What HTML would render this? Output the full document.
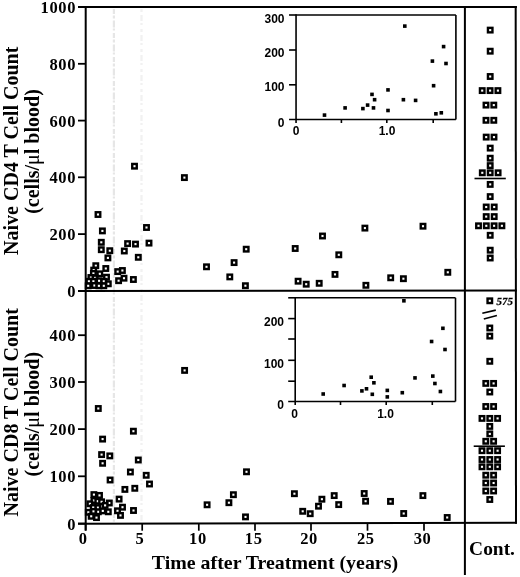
<!DOCTYPE html>
<html><head><meta charset="utf-8"><style>
html,body{margin:0;padding:0;background:#fff;}
body{width:520px;height:577px;overflow:hidden;}
svg{display:block;}
</style></head><body>
<svg width="520" height="577" viewBox="0 0 520 577">
<defs><filter id="bl" x="0" y="0" width="520" height="577" filterUnits="userSpaceOnUse"><feGaussianBlur stdDeviation="0.35"/></filter></defs>
<rect width="520" height="577" fill="#fff"/>
<g filter="url(#bl)">
<g>
<line x1="113.9" y1="9.0" x2="113.9" y2="521.7" stroke="#e6e6e6" stroke-width="2.2" stroke-dasharray="5 1.5 3 2 7 1 2 2.5"/>
<line x1="141.5" y1="9.0" x2="141.5" y2="521.7" stroke="#f1f1f1" stroke-width="2.2" stroke-dasharray="3 3 6 2 2 4"/>
<line x1="78" y1="7.0" x2="516.9" y2="7.0" stroke="#000" stroke-width="2.0"/>
<line x1="78" y1="291.1" x2="516.9" y2="290.4" stroke="#000" stroke-width="2.0"/>
<line x1="78" y1="523.7" x2="516.9" y2="522.7" stroke="#000" stroke-width="2.0"/>
<line x1="85.7" y1="6.0" x2="85.7" y2="530.5" stroke="#000" stroke-width="2.0"/>
<line x1="464.9" y1="6.0" x2="464.9" y2="575" stroke="#000" stroke-width="2.0"/>
<line x1="515.7" y1="6.0" x2="516.0" y2="523.7" stroke="#000" stroke-width="2.0"/>
<line x1="78" y1="7.0" x2="85.7" y2="7.0" stroke="#000" stroke-width="1.8"/>
<line x1="78" y1="63.8" x2="85.7" y2="63.8" stroke="#000" stroke-width="1.8"/>
<line x1="78" y1="120.6" x2="85.7" y2="120.6" stroke="#000" stroke-width="1.8"/>
<line x1="78" y1="177.3" x2="85.7" y2="177.3" stroke="#000" stroke-width="1.8"/>
<line x1="78" y1="234.1" x2="85.7" y2="234.1" stroke="#000" stroke-width="1.8"/>
<line x1="78" y1="291.0" x2="85.7" y2="291.0" stroke="#000" stroke-width="1.8"/>
<line x1="78" y1="335.2" x2="85.7" y2="335.2" stroke="#000" stroke-width="1.8"/>
<line x1="78" y1="382.0" x2="85.7" y2="382.0" stroke="#000" stroke-width="1.8"/>
<line x1="78" y1="429.1" x2="85.7" y2="429.1" stroke="#000" stroke-width="1.8"/>
<line x1="78" y1="476.3" x2="85.7" y2="476.3" stroke="#000" stroke-width="1.8"/>
<line x1="78" y1="523.6" x2="85.7" y2="523.6" stroke="#000" stroke-width="1.8"/>
<line x1="85.6" y1="523.682687927107" x2="85.6" y2="530.7" stroke="#000" stroke-width="1.7"/>
<line x1="142.2" y1="523.5537585421413" x2="142.2" y2="530.7" stroke="#000" stroke-width="1.7"/>
<line x1="198.8" y1="523.4248291571754" x2="198.8" y2="530.7" stroke="#000" stroke-width="1.7"/>
<line x1="255.0" y1="523.2968109339408" x2="255.0" y2="530.7" stroke="#000" stroke-width="1.7"/>
<line x1="311.0" y1="523.1692482915718" x2="311.0" y2="530.7" stroke="#000" stroke-width="1.7"/>
<line x1="367.5" y1="523.0405466970387" x2="367.5" y2="530.7" stroke="#000" stroke-width="1.7"/>
<line x1="424.0" y1="522.9118451025057" x2="424.0" y2="530.7" stroke="#000" stroke-width="1.7"/>
<line x1="474.5" y1="178.5" x2="505.8" y2="178.5" stroke="#000" stroke-width="1.6"/>
<line x1="473.7" y1="446.2" x2="504.9" y2="446.2" stroke="#000" stroke-width="1.6"/>
<line x1="482.3" y1="313.2" x2="495.8" y2="310.1" stroke="#000" stroke-width="1.6"/>
<line x1="483.8" y1="319.1" x2="496.9" y2="315.5" stroke="#000" stroke-width="1.6"/>
<line x1="296.05" y1="15.0" x2="455.9" y2="15.0" stroke="#000" stroke-width="1.6"/>
<line x1="455.9" y1="15.0" x2="455.9" y2="119.5" stroke="#000" stroke-width="1.6"/>
<line x1="289.05" y1="119.5" x2="455.9" y2="119.5" stroke="#000" stroke-width="1.6"/>
<line x1="296.05" y1="14.2" x2="296.05" y2="123.0" stroke="#000" stroke-width="1.6"/>
<line x1="289.05" y1="15.0" x2="296.05" y2="15.0" stroke="#000" stroke-width="1.6"/>
<line x1="289.05" y1="50.0" x2="296.05" y2="50.0" stroke="#000" stroke-width="1.6"/>
<line x1="289.05" y1="84.8" x2="296.05" y2="84.8" stroke="#000" stroke-width="1.6"/>
<line x1="341.4" y1="119.5" x2="341.4" y2="123.0" stroke="#000" stroke-width="1.6"/>
<line x1="386.8" y1="119.5" x2="386.8" y2="123.0" stroke="#000" stroke-width="1.6"/>
<line x1="433.2" y1="119.5" x2="433.2" y2="123.0" stroke="#000" stroke-width="1.6"/>
<line x1="295.2" y1="297.8" x2="455.5" y2="297.8" stroke="#000" stroke-width="1.6"/>
<line x1="455.5" y1="297.8" x2="455.5" y2="401.5" stroke="#000" stroke-width="1.6"/>
<line x1="288.2" y1="401.5" x2="455.5" y2="401.5" stroke="#000" stroke-width="1.6"/>
<line x1="295.2" y1="297.0" x2="295.2" y2="405.0" stroke="#000" stroke-width="1.6"/>
<line x1="288.2" y1="297.8" x2="295.2" y2="297.8" stroke="#000" stroke-width="1.6"/>
<line x1="288.2" y1="318.6" x2="295.2" y2="318.6" stroke="#000" stroke-width="1.6"/>
<line x1="288.2" y1="339.0" x2="295.2" y2="339.0" stroke="#000" stroke-width="1.6"/>
<line x1="288.2" y1="360.3" x2="295.2" y2="360.3" stroke="#000" stroke-width="1.6"/>
<line x1="288.2" y1="381.2" x2="295.2" y2="381.2" stroke="#000" stroke-width="1.6"/>
<line x1="340.5" y1="401.5" x2="340.5" y2="405.0" stroke="#000" stroke-width="1.6"/>
<line x1="386.2" y1="401.5" x2="386.2" y2="405.0" stroke="#000" stroke-width="1.6"/>
<line x1="432.3" y1="401.5" x2="432.3" y2="405.0" stroke="#000" stroke-width="1.6"/>
</g>
<g fill="#fff" stroke="#000" stroke-width="2.4">
<rect x="95.75" y="212.25" width="4.50" height="4.50"/>
<rect x="100.15" y="228.65" width="4.50" height="4.50"/>
<rect x="99.05" y="240.05" width="4.50" height="4.50"/>
<rect x="99.05" y="247.45" width="4.50" height="4.50"/>
<rect x="107.55" y="248.45" width="4.50" height="4.50"/>
<rect x="105.65" y="255.65" width="4.50" height="4.50"/>
<rect x="93.55" y="263.45" width="4.50" height="4.50"/>
<rect x="103.55" y="266.25" width="4.50" height="4.50"/>
<rect x="91.45" y="267.85" width="4.50" height="4.50"/>
<rect x="91.15" y="271.15" width="4.50" height="4.50"/>
<rect x="97.55" y="271.55" width="4.50" height="4.50"/>
<rect x="88.65" y="275.25" width="4.50" height="4.50"/>
<rect x="92.85" y="275.65" width="4.50" height="4.50"/>
<rect x="104.25" y="274.95" width="4.50" height="4.50"/>
<rect x="86.65" y="279.05" width="4.50" height="4.50"/>
<rect x="91.15" y="279.05" width="4.50" height="4.50"/>
<rect x="96.85" y="278.55" width="4.50" height="4.50"/>
<rect x="101.55" y="279.05" width="4.50" height="4.50"/>
<rect x="106.05" y="281.55" width="4.50" height="4.50"/>
<rect x="85.95" y="283.55" width="4.50" height="4.50"/>
<rect x="92.15" y="283.25" width="4.50" height="4.50"/>
<rect x="96.65" y="283.55" width="4.50" height="4.50"/>
<rect x="101.55" y="283.55" width="4.50" height="4.50"/>
<rect x="144.25" y="225.25" width="4.50" height="4.50"/>
<rect x="146.75" y="240.85" width="4.50" height="4.50"/>
<rect x="125.35" y="241.35" width="4.50" height="4.50"/>
<rect x="133.25" y="241.85" width="4.50" height="4.50"/>
<rect x="122.05" y="248.75" width="4.50" height="4.50"/>
<rect x="136.05" y="255.05" width="4.50" height="4.50"/>
<rect x="115.45" y="269.35" width="4.50" height="4.50"/>
<rect x="120.15" y="268.25" width="4.50" height="4.50"/>
<rect x="116.35" y="278.45" width="4.50" height="4.50"/>
<rect x="121.75" y="275.95" width="4.50" height="4.50"/>
<rect x="131.15" y="277.25" width="4.50" height="4.50"/>
<rect x="132.25" y="163.95" width="4.50" height="4.50"/>
<rect x="182.15" y="175.35" width="4.50" height="4.50"/>
<rect x="204.25" y="264.55" width="4.50" height="4.50"/>
<rect x="243.95" y="246.95" width="4.50" height="4.50"/>
<rect x="231.85" y="260.35" width="4.50" height="4.50"/>
<rect x="227.55" y="274.65" width="4.50" height="4.50"/>
<rect x="243.15" y="283.45" width="4.50" height="4.50"/>
<rect x="292.95" y="246.25" width="4.50" height="4.50"/>
<rect x="320.25" y="233.75" width="4.50" height="4.50"/>
<rect x="336.55" y="252.55" width="4.50" height="4.50"/>
<rect x="332.75" y="272.15" width="4.50" height="4.50"/>
<rect x="295.85" y="278.95" width="4.50" height="4.50"/>
<rect x="303.95" y="281.95" width="4.50" height="4.50"/>
<rect x="316.95" y="281.05" width="4.50" height="4.50"/>
<rect x="362.65" y="225.85" width="4.50" height="4.50"/>
<rect x="420.75" y="223.95" width="4.50" height="4.50"/>
<rect x="363.65" y="283.05" width="4.50" height="4.50"/>
<rect x="388.45" y="275.55" width="4.50" height="4.50"/>
<rect x="401.15" y="276.45" width="4.50" height="4.50"/>
<rect x="445.55" y="270.05" width="4.50" height="4.50"/>
<rect x="96.05" y="406.25" width="4.50" height="4.50"/>
<rect x="131.15" y="428.95" width="4.50" height="4.50"/>
<rect x="100.35" y="436.85" width="4.50" height="4.50"/>
<rect x="99.35" y="452.35" width="4.50" height="4.50"/>
<rect x="107.55" y="453.65" width="4.50" height="4.50"/>
<rect x="100.35" y="461.05" width="4.50" height="4.50"/>
<rect x="136.05" y="457.75" width="4.50" height="4.50"/>
<rect x="128.15" y="469.75" width="4.50" height="4.50"/>
<rect x="143.95" y="473.05" width="4.50" height="4.50"/>
<rect x="107.85" y="477.75" width="4.50" height="4.50"/>
<rect x="147.25" y="481.75" width="4.50" height="4.50"/>
<rect x="122.65" y="487.15" width="4.50" height="4.50"/>
<rect x="132.55" y="486.05" width="4.50" height="4.50"/>
<rect x="116.85" y="496.85" width="4.50" height="4.50"/>
<rect x="120.25" y="504.95" width="4.50" height="4.50"/>
<rect x="115.25" y="508.55" width="4.50" height="4.50"/>
<rect x="118.25" y="513.15" width="4.50" height="4.50"/>
<rect x="131.25" y="508.25" width="4.50" height="4.50"/>
<rect x="91.65" y="492.35" width="4.50" height="4.50"/>
<rect x="97.25" y="493.15" width="4.50" height="4.50"/>
<rect x="91.65" y="498.25" width="4.50" height="4.50"/>
<rect x="95.55" y="498.95" width="4.50" height="4.50"/>
<rect x="99.35" y="499.55" width="4.50" height="4.50"/>
<rect x="87.65" y="501.55" width="4.50" height="4.50"/>
<rect x="107.05" y="500.75" width="4.50" height="4.50"/>
<rect x="102.85" y="503.15" width="4.50" height="4.50"/>
<rect x="95.55" y="505.35" width="4.50" height="4.50"/>
<rect x="90.95" y="505.25" width="4.50" height="4.50"/>
<rect x="86.05" y="510.05" width="4.50" height="4.50"/>
<rect x="91.25" y="509.15" width="4.50" height="4.50"/>
<rect x="96.05" y="509.55" width="4.50" height="4.50"/>
<rect x="100.55" y="508.65" width="4.50" height="4.50"/>
<rect x="106.05" y="509.55" width="4.50" height="4.50"/>
<rect x="94.25" y="515.35" width="4.50" height="4.50"/>
<rect x="88.95" y="514.05" width="4.50" height="4.50"/>
<rect x="182.35" y="368.15" width="4.50" height="4.50"/>
<rect x="244.25" y="469.55" width="4.50" height="4.50"/>
<rect x="231.15" y="492.45" width="4.50" height="4.50"/>
<rect x="226.65" y="500.45" width="4.50" height="4.50"/>
<rect x="204.85" y="502.55" width="4.50" height="4.50"/>
<rect x="243.25" y="514.65" width="4.50" height="4.50"/>
<rect x="292.15" y="491.45" width="4.50" height="4.50"/>
<rect x="300.45" y="509.05" width="4.50" height="4.50"/>
<rect x="307.95" y="511.45" width="4.50" height="4.50"/>
<rect x="316.25" y="503.95" width="4.50" height="4.50"/>
<rect x="319.65" y="496.95" width="4.50" height="4.50"/>
<rect x="331.95" y="493.35" width="4.50" height="4.50"/>
<rect x="336.45" y="502.35" width="4.50" height="4.50"/>
<rect x="361.95" y="491.25" width="4.50" height="4.50"/>
<rect x="363.35" y="498.95" width="4.50" height="4.50"/>
<rect x="388.25" y="499.15" width="4.50" height="4.50"/>
<rect x="401.45" y="511.25" width="4.50" height="4.50"/>
<rect x="420.65" y="493.35" width="4.50" height="4.50"/>
<rect x="444.95" y="515.25" width="4.50" height="4.50"/>
<rect x="487.95" y="27.85" width="4.50" height="4.50"/>
<rect x="487.95" y="48.95" width="4.50" height="4.50"/>
<rect x="487.95" y="74.25" width="4.50" height="4.50"/>
<rect x="479.95" y="88.35" width="4.50" height="4.50"/>
<rect x="487.85" y="88.35" width="4.50" height="4.50"/>
<rect x="495.65" y="88.35" width="4.50" height="4.50"/>
<rect x="483.75" y="102.85" width="4.50" height="4.50"/>
<rect x="491.55" y="102.85" width="4.50" height="4.50"/>
<rect x="483.75" y="118.05" width="4.50" height="4.50"/>
<rect x="491.55" y="118.05" width="4.50" height="4.50"/>
<rect x="483.95" y="134.85" width="4.50" height="4.50"/>
<rect x="491.75" y="134.85" width="4.50" height="4.50"/>
<rect x="487.95" y="145.85" width="4.50" height="4.50"/>
<rect x="487.95" y="155.95" width="4.50" height="4.50"/>
<rect x="487.95" y="163.35" width="4.50" height="4.50"/>
<rect x="480.05" y="170.55" width="4.50" height="4.50"/>
<rect x="487.95" y="170.55" width="4.50" height="4.50"/>
<rect x="495.85" y="170.55" width="4.50" height="4.50"/>
<rect x="487.95" y="182.15" width="4.50" height="4.50"/>
<rect x="487.95" y="194.35" width="4.50" height="4.50"/>
<rect x="483.95" y="204.75" width="4.50" height="4.50"/>
<rect x="491.95" y="204.75" width="4.50" height="4.50"/>
<rect x="483.95" y="214.35" width="4.50" height="4.50"/>
<rect x="491.95" y="214.35" width="4.50" height="4.50"/>
<rect x="476.25" y="223.55" width="4.50" height="4.50"/>
<rect x="484.05" y="223.55" width="4.50" height="4.50"/>
<rect x="491.85" y="223.55" width="4.50" height="4.50"/>
<rect x="499.65" y="223.55" width="4.50" height="4.50"/>
<rect x="487.95" y="233.05" width="4.50" height="4.50"/>
<rect x="487.95" y="247.95" width="4.50" height="4.50"/>
<rect x="487.95" y="255.75" width="4.50" height="4.50"/>
<rect x="487.55" y="298.55" width="4.50" height="4.50"/>
<rect x="487.55" y="325.75" width="4.50" height="4.50"/>
<rect x="487.55" y="333.85" width="4.50" height="4.50"/>
<rect x="487.55" y="359.05" width="4.50" height="4.50"/>
<rect x="483.55" y="381.15" width="4.50" height="4.50"/>
<rect x="491.35" y="381.15" width="4.50" height="4.50"/>
<rect x="487.55" y="389.75" width="4.50" height="4.50"/>
<rect x="483.55" y="404.25" width="4.50" height="4.50"/>
<rect x="491.35" y="404.25" width="4.50" height="4.50"/>
<rect x="479.75" y="416.15" width="4.50" height="4.50"/>
<rect x="487.55" y="416.15" width="4.50" height="4.50"/>
<rect x="495.35" y="416.15" width="4.50" height="4.50"/>
<rect x="487.55" y="424.15" width="4.50" height="4.50"/>
<rect x="487.55" y="431.65" width="4.50" height="4.50"/>
<rect x="483.55" y="439.05" width="4.50" height="4.50"/>
<rect x="491.35" y="439.05" width="4.50" height="4.50"/>
<rect x="479.75" y="448.45" width="4.50" height="4.50"/>
<rect x="487.55" y="448.45" width="4.50" height="4.50"/>
<rect x="495.35" y="448.45" width="4.50" height="4.50"/>
<rect x="479.75" y="457.25" width="4.50" height="4.50"/>
<rect x="487.55" y="457.25" width="4.50" height="4.50"/>
<rect x="495.35" y="457.25" width="4.50" height="4.50"/>
<rect x="479.75" y="464.55" width="4.50" height="4.50"/>
<rect x="487.55" y="464.55" width="4.50" height="4.50"/>
<rect x="495.35" y="464.55" width="4.50" height="4.50"/>
<rect x="483.55" y="472.95" width="4.50" height="4.50"/>
<rect x="491.35" y="472.95" width="4.50" height="4.50"/>
<rect x="483.55" y="480.75" width="4.50" height="4.50"/>
<rect x="491.35" y="480.75" width="4.50" height="4.50"/>
<rect x="483.55" y="488.75" width="4.50" height="4.50"/>
<rect x="491.35" y="488.75" width="4.50" height="4.50"/>
<rect x="487.55" y="497.25" width="4.50" height="4.50"/>
</g>
<g fill="#000">
<rect x="322.70" y="113.30" width="3.60" height="3.60"/>
<rect x="343.30" y="106.10" width="3.60" height="3.60"/>
<rect x="403.00" y="24.30" width="3.60" height="3.60"/>
<rect x="441.80" y="44.80" width="3.60" height="3.60"/>
<rect x="430.60" y="59.30" width="3.60" height="3.60"/>
<rect x="444.20" y="61.70" width="3.60" height="3.60"/>
<rect x="431.80" y="83.90" width="3.60" height="3.60"/>
<rect x="386.20" y="88.10" width="3.60" height="3.60"/>
<rect x="370.20" y="92.60" width="3.60" height="3.60"/>
<rect x="372.80" y="97.90" width="3.60" height="3.60"/>
<rect x="365.80" y="103.30" width="3.60" height="3.60"/>
<rect x="371.70" y="106.10" width="3.60" height="3.60"/>
<rect x="361.10" y="106.80" width="3.60" height="3.60"/>
<rect x="386.20" y="108.70" width="3.60" height="3.60"/>
<rect x="401.60" y="97.90" width="3.60" height="3.60"/>
<rect x="413.80" y="98.60" width="3.60" height="3.60"/>
<rect x="434.10" y="112.00" width="3.60" height="3.60"/>
<rect x="439.50" y="111.00" width="3.60" height="3.60"/>
<rect x="321.40" y="392.20" width="3.60" height="3.60"/>
<rect x="342.30" y="383.70" width="3.60" height="3.60"/>
<rect x="402.10" y="299.00" width="3.60" height="3.60"/>
<rect x="441.10" y="326.50" width="3.60" height="3.60"/>
<rect x="429.80" y="339.70" width="3.60" height="3.60"/>
<rect x="443.20" y="347.70" width="3.60" height="3.60"/>
<rect x="369.40" y="375.40" width="3.60" height="3.60"/>
<rect x="413.20" y="376.10" width="3.60" height="3.60"/>
<rect x="431.00" y="374.30" width="3.60" height="3.60"/>
<rect x="372.10" y="381.00" width="3.60" height="3.60"/>
<rect x="433.10" y="381.70" width="3.60" height="3.60"/>
<rect x="360.10" y="389.10" width="3.60" height="3.60"/>
<rect x="364.70" y="387.00" width="3.60" height="3.60"/>
<rect x="370.50" y="392.50" width="3.60" height="3.60"/>
<rect x="385.50" y="388.60" width="3.60" height="3.60"/>
<rect x="385.50" y="395.10" width="3.60" height="3.60"/>
<rect x="400.50" y="390.90" width="3.60" height="3.60"/>
<rect x="438.60" y="389.70" width="3.60" height="3.60"/>
</g>
<g fill="#000">
<text x="76.0" y="12.9" font-family="Liberation Serif" font-size="16.5" font-weight="bold" font-style="normal" text-anchor="end" letter-spacing="0.6">1000</text>
<text x="76.0" y="69.7" font-family="Liberation Serif" font-size="16.5" font-weight="bold" font-style="normal" text-anchor="end" letter-spacing="0.6">800</text>
<text x="76.0" y="126.5" font-family="Liberation Serif" font-size="16.5" font-weight="bold" font-style="normal" text-anchor="end" letter-spacing="0.6">600</text>
<text x="76.0" y="183.20000000000002" font-family="Liberation Serif" font-size="16.5" font-weight="bold" font-style="normal" text-anchor="end" letter-spacing="0.6">400</text>
<text x="76.0" y="240.0" font-family="Liberation Serif" font-size="16.5" font-weight="bold" font-style="normal" text-anchor="end" letter-spacing="0.6">200</text>
<text x="76.0" y="296.9" font-family="Liberation Serif" font-size="16.5" font-weight="bold" font-style="normal" text-anchor="end" letter-spacing="0.6">0</text>
<text x="76.0" y="341.09999999999997" font-family="Liberation Serif" font-size="16.5" font-weight="bold" font-style="normal" text-anchor="end" letter-spacing="0.6">400</text>
<text x="76.0" y="387.9" font-family="Liberation Serif" font-size="16.5" font-weight="bold" font-style="normal" text-anchor="end" letter-spacing="0.6">300</text>
<text x="76.0" y="435.0" font-family="Liberation Serif" font-size="16.5" font-weight="bold" font-style="normal" text-anchor="end" letter-spacing="0.6">200</text>
<text x="76.0" y="482.2" font-family="Liberation Serif" font-size="16.5" font-weight="bold" font-style="normal" text-anchor="end" letter-spacing="0.6">100</text>
<text x="76.0" y="529.5" font-family="Liberation Serif" font-size="16.5" font-weight="bold" font-style="normal" text-anchor="end" letter-spacing="0.6">0</text>
<text x="83.3" y="543.9" font-family="Liberation Serif" font-size="16.5" font-weight="bold" font-style="normal" text-anchor="middle" letter-spacing="0.6">0</text>
<text x="140.0" y="543.9" font-family="Liberation Serif" font-size="16.5" font-weight="bold" font-style="normal" text-anchor="middle" letter-spacing="0.6">5</text>
<text x="197.9" y="543.9" font-family="Liberation Serif" font-size="16.5" font-weight="bold" font-style="normal" text-anchor="middle" letter-spacing="0.6">10</text>
<text x="253.70000000000002" y="543.9" font-family="Liberation Serif" font-size="16.5" font-weight="bold" font-style="normal" text-anchor="middle" letter-spacing="0.6">15</text>
<text x="309.0" y="543.9" font-family="Liberation Serif" font-size="16.5" font-weight="bold" font-style="normal" text-anchor="middle" letter-spacing="0.6">20</text>
<text x="365.8" y="543.9" font-family="Liberation Serif" font-size="16.5" font-weight="bold" font-style="normal" text-anchor="middle" letter-spacing="0.6">25</text>
<text x="422.6" y="543.9" font-family="Liberation Serif" font-size="16.5" font-weight="bold" font-style="normal" text-anchor="middle" letter-spacing="0.6">30</text>
<text transform="translate(151.8,568.6) scale(1.106,1)" font-family="Liberation Serif" font-size="18" font-weight="bold">Time after Treatment (years)</text>
<text transform="translate(469.1,555.2) scale(1.08,1)" font-family="Liberation Serif" font-size="18" font-weight="bold">Cont.</text>
<text transform="translate(496.0,304.5) skewX(-9)" font-family="Liberation Serif" font-size="10.9" font-weight="bold" stroke="#000" stroke-width="0.2">575</text>
<text transform="translate(17.6,150.8) rotate(-90)" font-family="Liberation Serif" font-size="20" font-weight="bold" text-anchor="middle">Naive CD4 T Cell Count</text>
<text transform="translate(38.9,151.5) rotate(-90)" font-family="Liberation Serif" font-size="20" font-weight="bold" text-anchor="middle">(cells/<tspan font-weight="normal">μ</tspan>l blood)</text>
<text transform="translate(17.6,412.3) rotate(-90)" font-family="Liberation Serif" font-size="20" font-weight="bold" text-anchor="middle">Naive CD8 T Cell Count</text>
<text transform="translate(38.9,414.2) rotate(-90)" font-family="Liberation Serif" font-size="20" font-weight="bold" text-anchor="middle">(cells/<tspan font-weight="normal">μ</tspan>l blood)</text>
<text x="284.5" y="22.9" font-family="Liberation Sans" font-size="12" font-weight="bold" text-anchor="end">300</text>
<text x="284.5" y="56.6" font-family="Liberation Sans" font-size="12" font-weight="bold" text-anchor="end">200</text>
<text x="284.5" y="91.4" font-family="Liberation Sans" font-size="12" font-weight="bold" text-anchor="end">100</text>
<text x="284.5" y="126.8" font-family="Liberation Sans" font-size="12" font-weight="bold" text-anchor="end">0</text>
<text x="296.2" y="135" font-family="Liberation Sans" font-size="12" font-weight="bold" text-anchor="middle">0</text>
<text x="387.0" y="135" font-family="Liberation Sans" font-size="12" font-weight="bold" text-anchor="middle">1.0</text>
<text x="284.0" y="326.1" font-family="Liberation Sans" font-size="12" font-weight="bold" text-anchor="end">200</text>
<text x="284.0" y="367.8" font-family="Liberation Sans" font-size="12" font-weight="bold" text-anchor="end">100</text>
<text x="284.0" y="409.0" font-family="Liberation Sans" font-size="12" font-weight="bold" text-anchor="end">0</text>
<text x="294.7" y="418.4" font-family="Liberation Sans" font-size="12" font-weight="bold" text-anchor="middle">0</text>
<text x="385.5" y="418.4" font-family="Liberation Sans" font-size="12" font-weight="bold" text-anchor="middle">1.0</text>
</g>
</g>
</svg>
</body></html>
